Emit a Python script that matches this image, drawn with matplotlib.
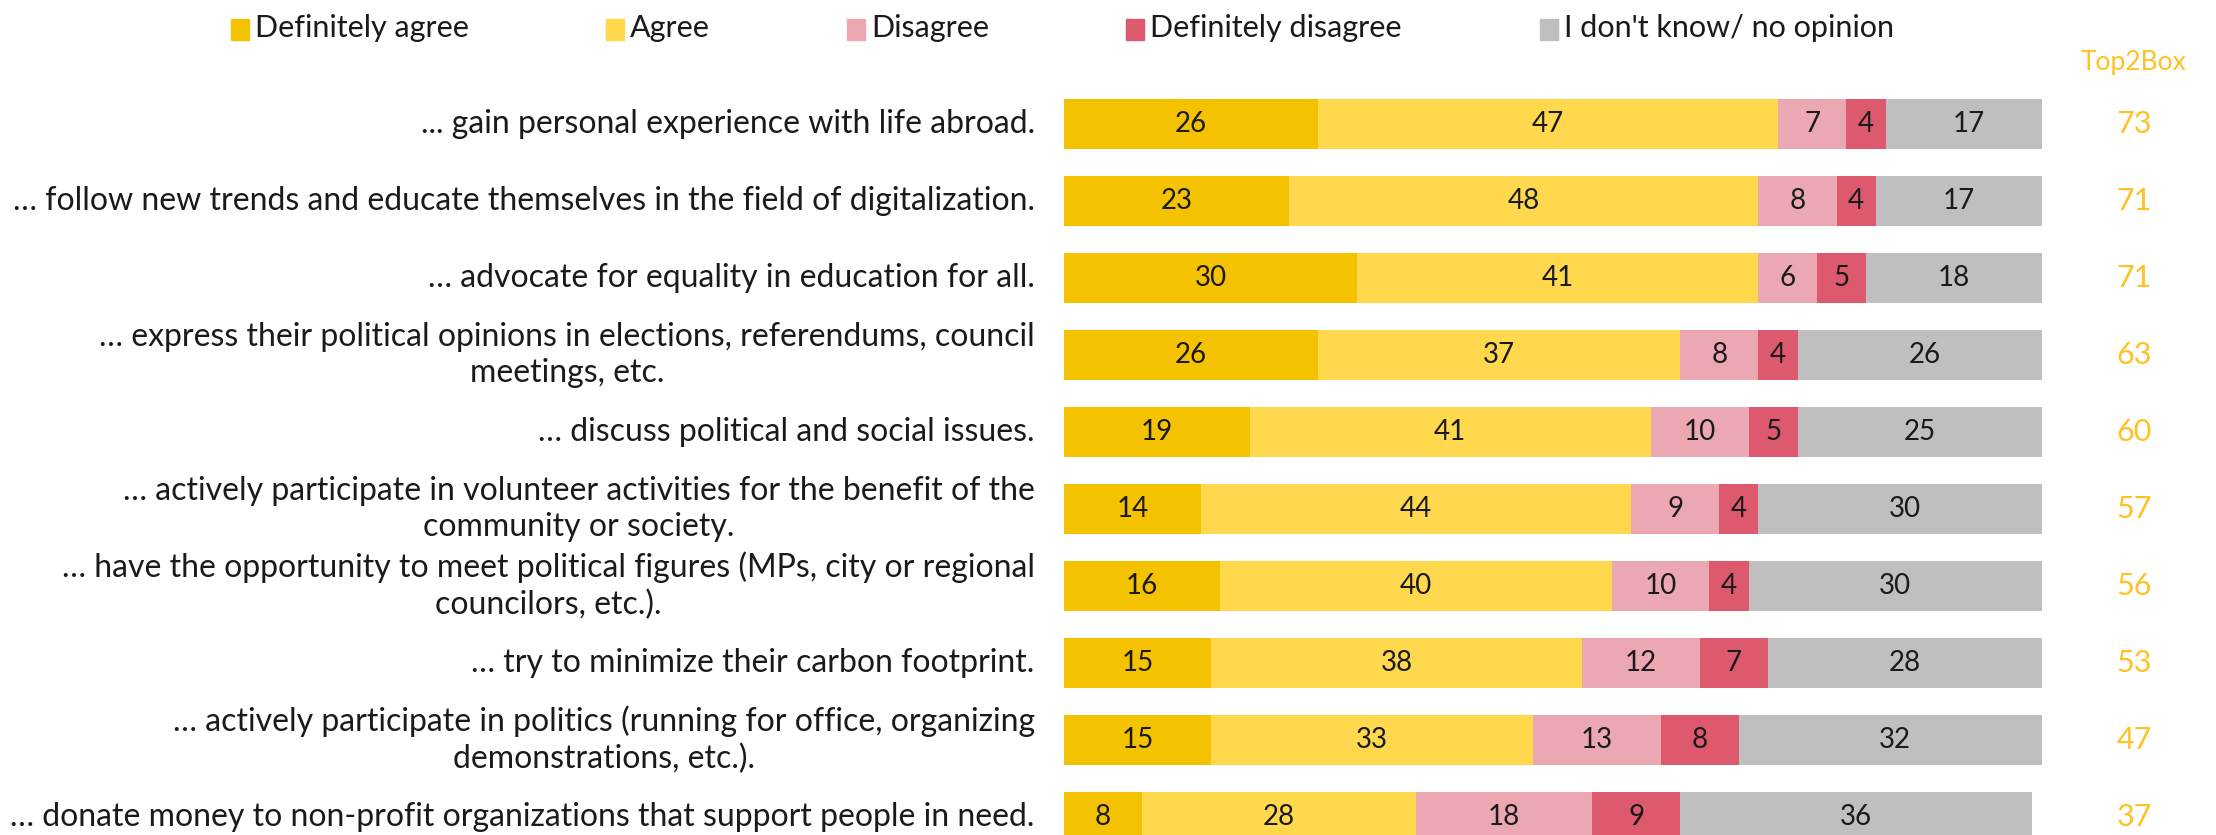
import numpy as np
import matplotlib.pyplot as plt
from matplotlib.patches import Rectangle

plt.rcParams['font.family'] = ['Lato', 'DejaVu Sans']

# Veriler
labels = [
    "... gain personal experience with life abroad.",
    "… follow new trends and educate themselves in the field of digitalization.",
    "… advocate for equality in education for all.",
    "… express their political opinions in elections, referendums, council\nmeetings, etc.",
    "… discuss political and social issues.",
    "… actively participate in volunteer activities for the benefit of the\ncommunity or society.",
    "… have the opportunity to meet political figures (MPs, city or regional\ncouncilors, etc.).",
    "… try to minimize their carbon footprint.",
    "… actively participate in politics (running for office, organizing\ndemonstrations, etc.).",
    "… donate money to non-profit organizations that support people in need.",
]
series_names = ["Definitely agree", "Agree", "Disagree", "Definitely disagree",
                "I don't know/ no opinion"]
definitely_agree = [26, 23, 30, 26, 19, 14, 16, 15, 15, 8]
agree = [47, 48, 41, 37, 41, 44, 40, 38, 33, 28]
disagree = [7, 8, 6, 8, 10, 9, 10, 12, 13, 18]
definitely_disagree = [4, 4, 5, 4, 5, 4, 4, 7, 8, 9]
dont_know = [17, 17, 18, 26, 25, 30, 30, 28, 32, 36]
top2box = [73, 71, 71, 63, 60, 57, 56, 53, 47, 37]

colors = ["#F5C200", "#FFD84D", "#ECA8B2", "#DC596E", "#BFBFBF"]
top_color = "#FFC225"
txt = '#1a1a1a'

W, H = 2216, 835
fig = plt.figure(figsize=(W / 100, H / 100), dpi=100)

# eksen: 0..100 -> 1064..2042 px, satirlar 124..817 px
ax_top = 85.5
ax = fig.add_axes([1064 / W, 0, 978 / W, (H - ax_top) / H])
row_h = 77
ax.set_xlim(0, 100)
ax.set_ylim(9.5 - (row_h * 10 - (H - ax_top)) / row_h, -0.5)
ax.axis('off')

y = np.arange(len(labels))
left = np.zeros(len(labels))
for vals, col in zip([definitely_agree, agree, disagree, definitely_disagree, dont_know], colors):
    vals = np.array(vals, dtype=float)
    ax.barh(y, vals, left=left, height=0.66, color=col, edgecolor='none')
    for yi, l, v in zip(y, left, vals):
        ax.text(l + v / 2, yi, f"{int(v)}", ha='center', va='center',
                fontsize=20, color=txt)
    left += vals

# Satir etiketleri
for yi, lab in zip(y, labels):
    ax.text(-3, yi, lab, ha='right', va='center', multialignment='center',
            fontsize=23, color=txt, clip_on=False, linespacing=1.28)

# Top2Box sutunu
for yi, t in zip(y, top2box):
    ax.text(109.4, yi, str(t), ha='center', va='center', fontsize=22,
            color=top_color, clip_on=False)
ax.text(109.4, -0.8, "Top2Box", ha='center', va='center', fontsize=19,
        color=top_color, clip_on=False)

# Legend (manuel)
leg_x = [231, 606, 847, 1126, 1540]
for x0, name, col in zip(leg_x, series_names, colors):
    fig.patches.append(Rectangle((x0 / W, 1 - 40 / H), 18 / W, 21 / H,
                                 transform=fig.transFigure, color=col))
    fig.text((x0 + 24) / W, 1 - 28 / H, name, ha='left', va='center',
             fontsize=22, color=txt)

fig.savefig("out.png", dpi=100)
